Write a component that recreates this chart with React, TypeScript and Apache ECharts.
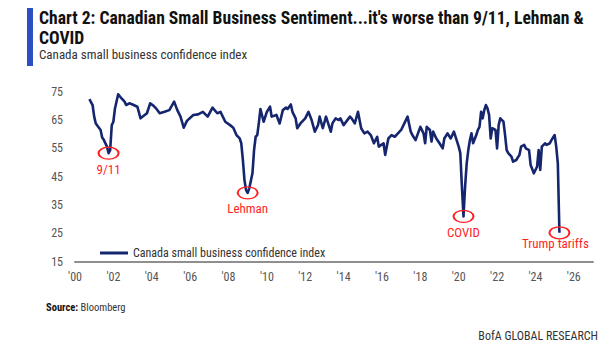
import React, { useEffect, useRef } from "react";
import * as echarts from "echarts";

// Monthly readings (YYYY-MM) of the Canada small business confidence index
const dates = [
  "2000-10", "2000-12", "2001-01", "2001-02", "2001-05", "2001-06", "2001-07", "2001-09", "2001-10", "2001-11", "2001-12",
  "2002-01", "2002-02", "2002-04", "2002-06", "2002-08", "2002-09", "2002-11",
  "2003-01", "2003-04", "2003-06", "2003-08", "2003-10", "2003-12",
  "2004-02", "2004-04", "2004-06", "2004-09", "2004-12",
  "2005-03", "2005-05", "2005-07", "2005-09", "2005-11",
  "2006-03", "2006-06", "2006-09", "2006-12",
  "2007-03", "2007-06", "2007-08", "2007-11",
  "2008-02", "2008-04", "2008-06", "2008-08", "2008-09", "2008-10", "2008-11", "2008-12",
  "2009-01", "2009-02", "2009-04", "2009-05", "2009-06", "2009-07", "2009-08", "2009-09", "2009-11",
  "2010-01", "2010-03", "2010-04", "2010-07", "2010-09", "2010-11",
  "2011-01", "2011-02", "2011-04", "2011-05", "2011-07", "2011-08", "2011-10",
  "2012-01", "2012-03", "2012-05", "2012-07", "2012-09", "2012-10", "2012-12",
  "2013-02", "2013-03", "2013-05", "2013-06", "2013-08", "2013-10", "2013-11",
  "2014-01", "2014-05", "2014-06", "2014-08", "2014-10", "2014-12",
  "2015-02", "2015-04", "2015-06", "2015-08", "2015-10", "2015-11",
  "2016-02", "2016-03", "2016-05", "2016-07", "2016-09", "2016-11",
  "2017-01", "2017-03", "2017-05", "2017-07", "2017-08", "2017-10",
  "2018-01", "2018-03", "2018-04", "2018-05", "2018-07", "2018-08", "2018-09", "2018-11",
  "2019-01", "2019-03", "2019-04", "2019-06", "2019-08", "2019-10", "2019-12",
  "2020-01", "2020-02", "2020-03", "2020-04", "2020-05", "2020-06", "2020-07", "2020-08", "2020-09", "2020-10", "2020-12",
  "2021-01", "2021-02", "2021-03", "2021-04", "2021-05", "2021-06", "2021-07", "2021-08", "2021-09", "2021-10", "2021-12",
  "2022-01", "2022-02", "2022-03", "2022-05", "2022-06", "2022-07", "2022-08", "2022-10", "2022-11",
  "2023-01", "2023-03", "2023-04", "2023-06", "2023-07", "2023-09", "2023-10", "2023-12",
  "2024-02", "2024-03", "2024-04", "2024-05", "2024-07", "2024-08", "2024-10", "2024-11",
  "2025-01", "2025-02", "2025-03", "2025-04",
];

const values = [
  72.4, 70.3, 66.2, 63.8, 61.5, 58.8, 58.0, 55.6, 53.3, 54.4, 63.2,
  64.4, 69.1, 74.1, 72.7, 71.5, 70.3, 70.9,
  70.5, 69.7, 65.6, 66.5, 67.4, 70.9,
  70.1, 68.9, 67.4, 67.9, 68.5,
  71.5, 68.5, 66.2, 62.3, 64.7,
  66.8, 67.0, 67.9, 66.2,
  69.4, 67.4, 67.9, 64.4,
  63.2, 62.3, 59.7, 58.5, 56.8, 50.9, 43.8, 40.3,
  39.3, 40.9, 46.2, 54.4, 59.1, 59.7, 64.0, 68.9, 64.4,
  67.9, 69.7, 66.2, 66.8, 63.8, 68.5,
  69.4, 68.9, 70.5, 67.9, 65.6, 62.1, 63.8,
  65.6, 67.9, 65.0, 60.9, 63.2, 66.2, 62.1,
  66.2, 64.4, 60.9, 63.8, 65.6, 65.0, 65.6,
  63.2, 66.2, 65.6, 63.8, 67.9, 62.1,
  60.3, 60.9, 59.7, 56.8, 59.1, 55.6,
  56.8, 52.7, 58.5, 59.7, 59.1, 60.3,
  61.5, 63.8, 66.2, 60.9, 59.7, 57.9,
  62.6, 60.3, 56.8, 62.6, 61.5, 57.4, 60.9, 58.5,
  56.8, 55.0, 58.5, 60.3, 58.5, 60.9, 57.4,
  55.6, 53.3, 41.5, 31.0, 41.5, 49.7, 54.4, 57.9, 60.3, 56.8, 59.7,
  61.5, 62.6, 67.9, 65.6, 68.5, 70.3, 69.1, 66.8, 58.5, 62.1, 61.5,
  55.0, 63.2, 65.6, 64.4, 59.7, 54.4, 53.3, 52.1, 50.3,
  50.9, 52.7, 55.6, 56.2, 55.0, 54.4, 49.1, 46.2,
  48.5, 54.4, 47.4, 55.6, 56.8, 56.2, 56.8, 57.9,
  59.7, 55.6, 49.7, 25.2,
];

const seriesName = "Canada small business confidence index";

const eventDates = ["2001-10", "2009-01", "2020-04", "2025-04"];
const eventLabels = ["9/11", "Lehman", "COVID", "Trump tariffs"];

const yearRange = [2000, 2027];
const valueRange = [15, 75];

const FONT = '"Liberation Sans Narrow", "Roboto Condensed", Roboto, "Noto Sans", sans-serif';
const LINE_COLOR = "#16266e";
const RED = "#ff1f1f";

const toYear = (d: string) => {
  const [y, m] = d.split("-").map(Number);
  return y + (m - 1) / 12;
};

export default function App() {
  const ref = useRef<HTMLDivElement>(null);

  useEffect(() => {
    document.body.style.margin = "0";
    if (!ref.current) return;
    const chart = echarts.init(ref.current, null, { renderer: "svg" });

    const labelOffsets: Record<string, number[]> = {
      "Trump tariffs": [-4, -5],
    };

    const option: any = {
      animation: false,
      grid: { left: 75, right: 21, top: 91.7, bottom: 93.3, containLabel: false },
      xAxis: {
        type: "value",
        min: yearRange[0],
        max: yearRange[1],
        interval: 2,
        axisLine: { show: true, onZero: false, lineStyle: { color: "#8f8f8f", width: 2 } },
        axisTick: { show: false },
        splitLine: { show: false },
        axisLabel: {
          showMaxLabel: false,
          color: "#555",
          fontSize: 12,
          fontFamily: FONT,
          margin: 9,
          formatter: (v: number) => "'" + String(v).slice(2),
        },
      },
      yAxis: {
        type: "value",
        min: valueRange[0],
        max: valueRange[1],
        interval: 10,
        axisLine: { show: false },
        axisTick: { show: false },
        splitLine: { show: false },
        axisLabel: { color: "#555", fontSize: 12, fontFamily: FONT, margin: 12 },
      },
      legend: {
        left: 95,
        top: 242,
        icon: "rect",
        itemWidth: 28,
        itemHeight: 3,
        textStyle: { color: "#333", fontSize: 12, fontFamily: FONT },
        data: [seriesName],
      },
      series: [
        {
          type: "line",
          name: seriesName,
          data: dates.map((d, i) => [toYear(d), values[i]]),
          showSymbol: false,
          symbol: "none",
          lineStyle: { color: LINE_COLOR, width: 2.6, join: "round" },
          itemStyle: { color: LINE_COLOR },
          markPoint: {
            symbol: "path://M0,6 A10,6 0 1,0 20,6 A10,6 0 1,0 0,6 Z",
            symbolSize: [20, 12],
            itemStyle: { color: "rgba(0,0,0,0)", borderColor: RED, borderWidth: 1.6 },
            label: {
              show: true,
              position: "bottom",
              distance: 3,
              color: RED,
              fontSize: 13,
              fontFamily: FONT,
              formatter: (p: any) => p.name,
            },
            data: eventDates.map((d, i) => ({
              name: eventLabels[i],
              coord: [toYear(d), values[dates.indexOf(d)]],
              label: labelOffsets[eventLabels[i]] ? { offset: labelOffsets[eventLabels[i]] } : undefined,
            })),
          },
        },
      ],
      graphic: [
        { type: "rect", left: 27, top: 8, shape: { width: 6, height: 58 }, style: { fill: "#2c50c4" } },
        {
          type: "text",
          left: 39,
          top: 8,
          style: {
            text: "Chart 2: Canadian Small Business Sentiment...it's worse than 9/11, Lehman &\nCOVID",
            fontSize: 17.6,
            fontWeight: "bold",
            fontFamily: FONT,
            lineHeight: 20,
            fill: "#111",
          },
        },
        {
          type: "text",
          left: 39,
          top: 48,
          style: { text: "Canada small business confidence index", fontSize: 13, fontFamily: FONT, fill: "#333" },
        },
        {
          type: "text",
          left: 46,
          top: 302,
          style: {
            text: "{b|Source:} Bloomberg",
            fontSize: 10.5,
            fontFamily: FONT,
            fill: "#333",
            rich: { b: { fontWeight: "bold", fontSize: 10.5, fontFamily: FONT, fill: "#111" } },
          },
        },
        {
          type: "text",
          right: 16,
          top: 330,
          style: { text: "BofA GLOBAL RESEARCH", fontSize: 12, fontFamily: FONT, fill: "#333" },
        },
      ],
    };

    chart.setOption(option);
    return () => chart.dispose();
  }, []);

  return <div ref={ref} style={{ width: 614, height: 355 }} />;
}
